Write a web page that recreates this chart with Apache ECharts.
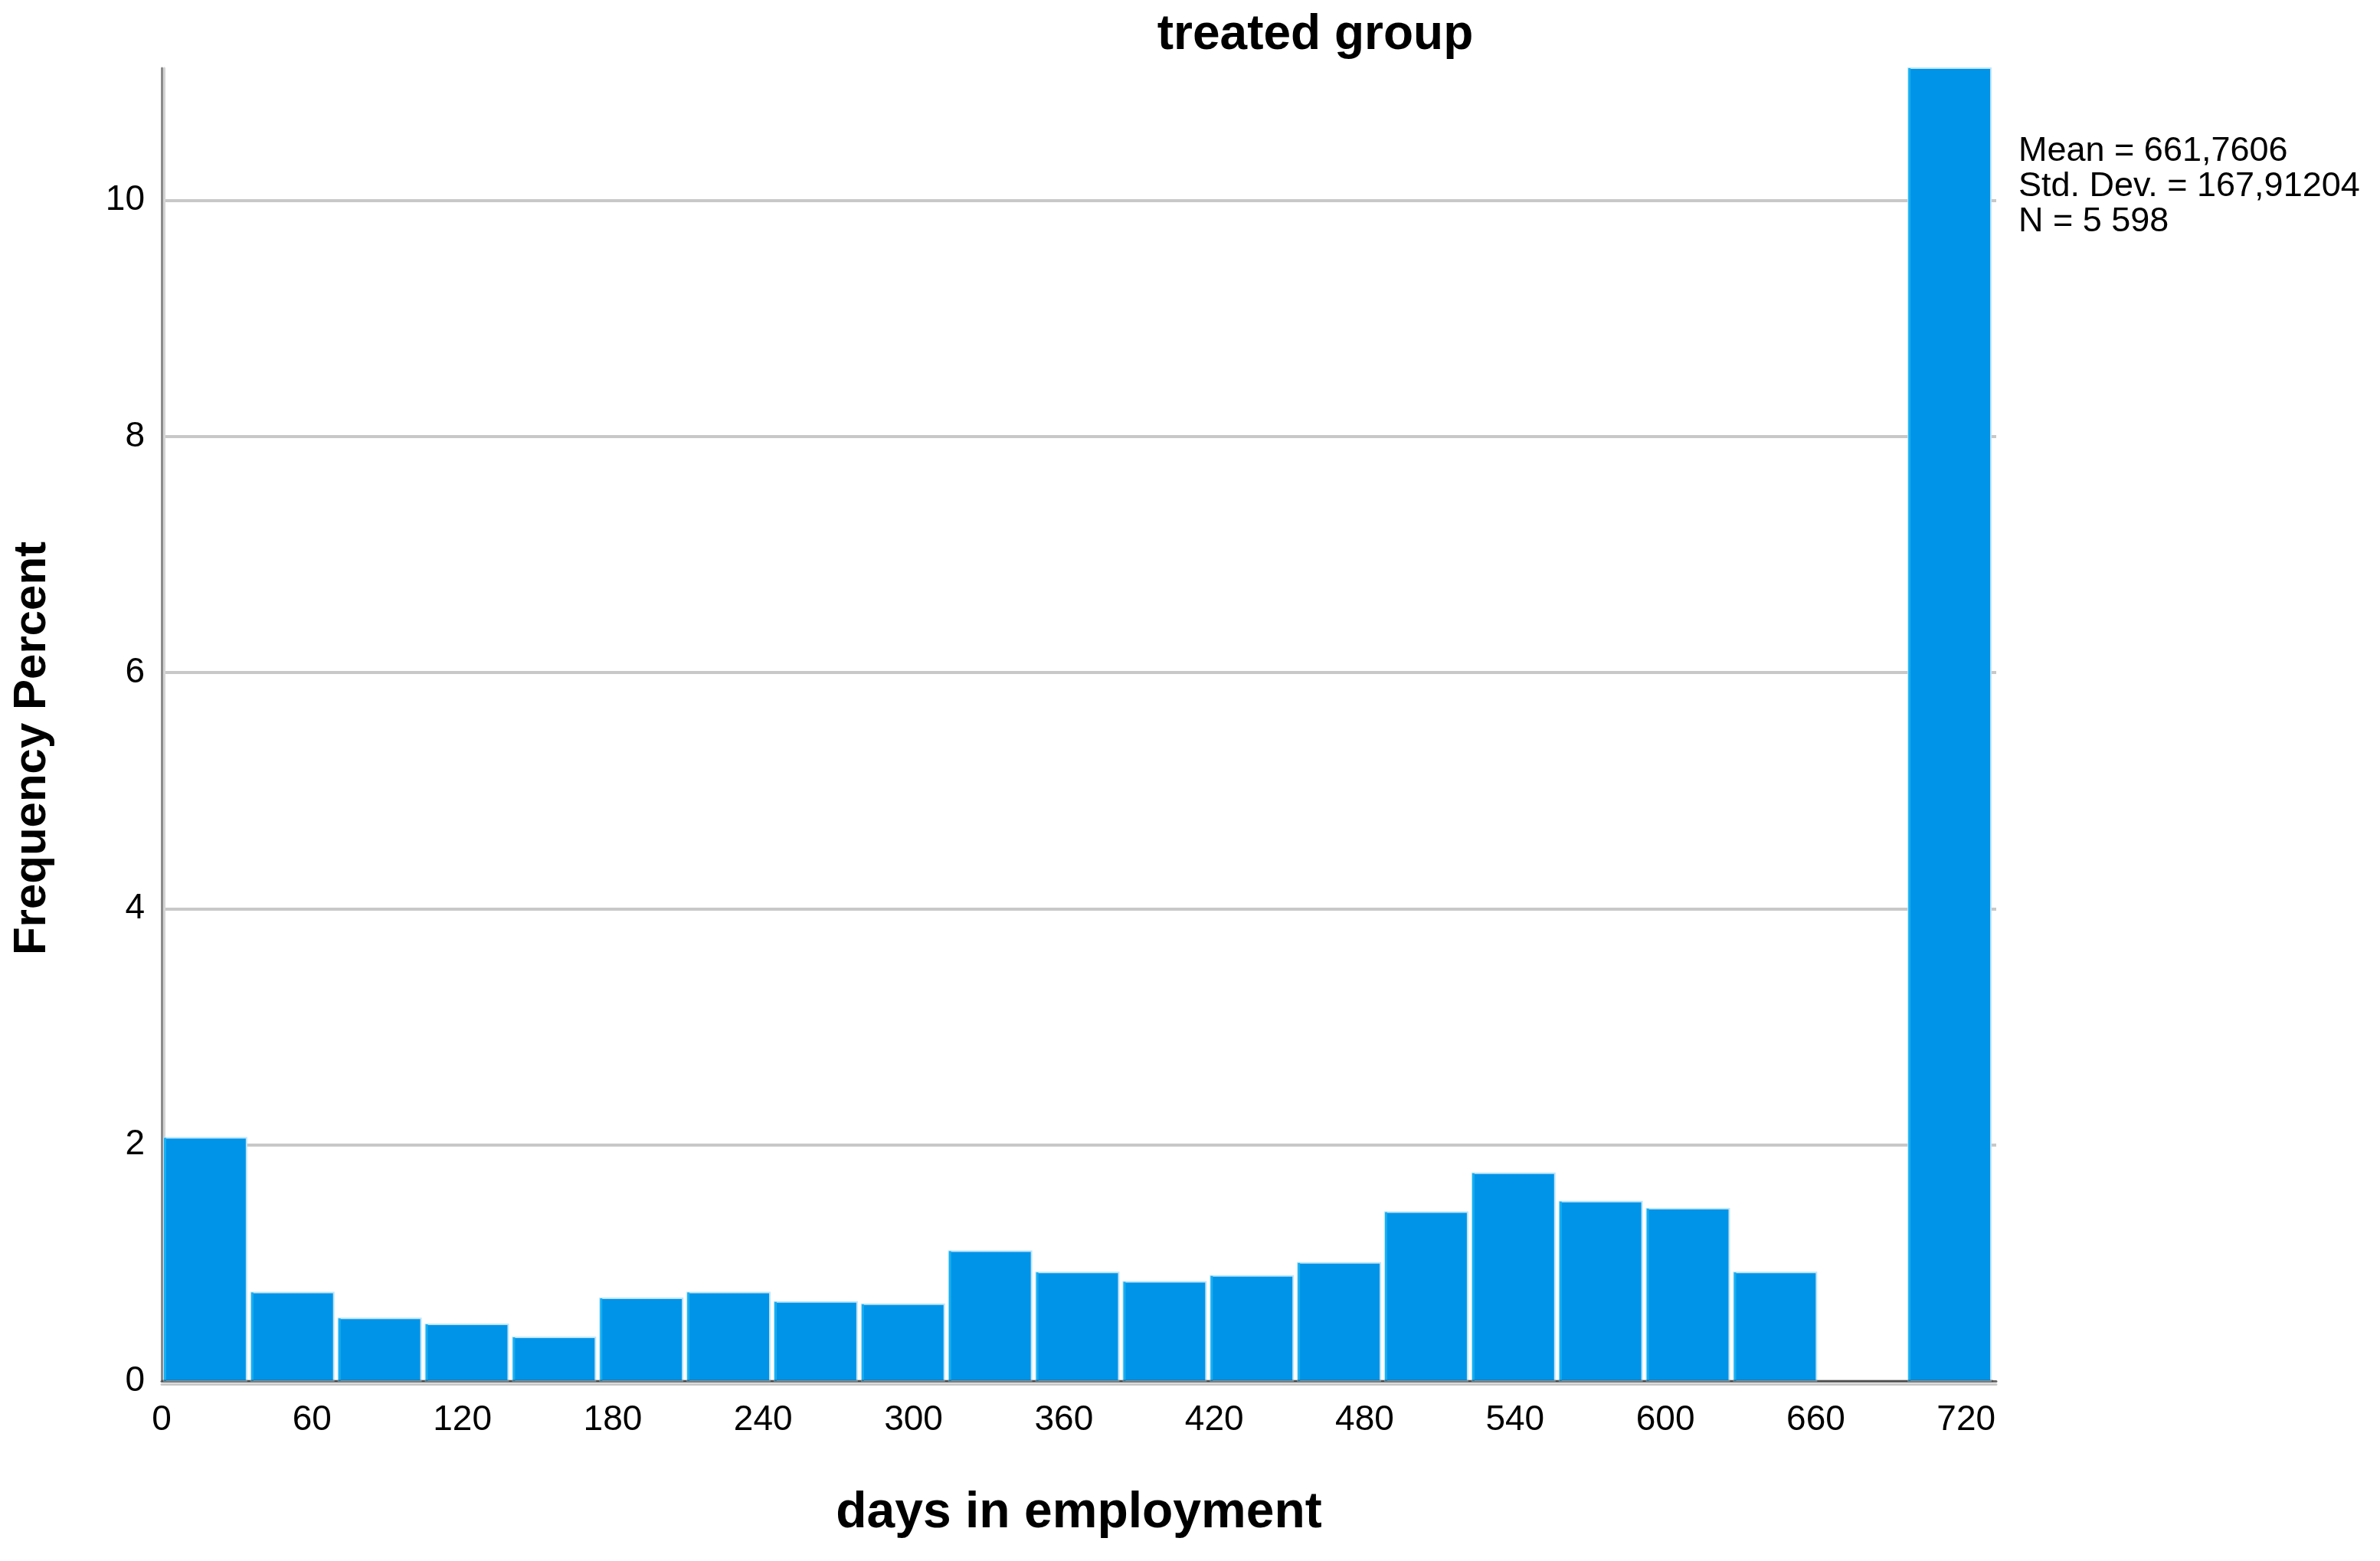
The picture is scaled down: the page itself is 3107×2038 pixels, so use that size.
<!DOCTYPE html>
<html>
<head>
<meta charset="utf-8">
<script src="https://cdn.jsdelivr.net/npm/echarts@6/dist/echarts.min.js"></script>
<style>
html,body{margin:0;padding:0;background:#fff;}
#chart{width:3107px;height:2038px;}
</style>
</head>
<body>
<div id="chart"></div>
<script>
// ---- data ----
const chartTitle = 'treated group';
const xAxisTitle = 'days in employment';
const yAxisTitle = 'Frequency Percent';
const binWidth = 34.8;          // days per histogram bin
const percent = [2.06, 0.75, 0.53, 0.48, 0.37, 0.70, 0.75, 0.67, 0.65, 1.10,
                 0.92, 0.84, 0.89, 1.00, 1.43, 1.76, 1.52, 1.46, 0.92, 0, 81.2];
const xTicks = [0, 60, 120, 180, 240, 300, 360, 420, 480, 540, 600, 660, 720];
const yTicks = [0, 2, 4, 6, 8, 10];
const statsLines = ['Mean = 661,7606', 'Std. Dev. = 167,91204', 'N = 5 598'];

const binData = percent.map((v, i) => [i * binWidth, (i + 1) * binWidth, v]);

const chart = echarts.init(document.getElementById('chart'));
const font = 'Liberation Sans, Arial, sans-serif';

chart.setOption({
  backgroundColor: '#ffffff',
  animation: false,
  grid: { left: 211, right: 501, top: 89, bottom: 235, containLabel: false },
  graphic: [
    { type: 'text', x: 1717, y: 46,
      style: { text: chartTitle, fontFamily: font, fontWeight: 'bold', fontSize: 64,
               fill: '#000', textAlign: 'center', textVerticalAlign: 'middle' } },
    { type: 'text', x: 2635, y: 175,
      style: { text: statsLines.join('\n'), fontFamily: font, fontSize: 45, lineHeight: 46,
               fill: '#000', textAlign: 'left', textVerticalAlign: 'top' } }
  ],
  xAxis: {
    type: 'value', min: 0, max: 732, interval: 60,
    name: xAxisTitle, nameLocation: 'middle', nameGap: 140,
    nameTextStyle: { fontFamily: font, fontWeight: 'bold', fontSize: 66, color: '#000' },
    axisLine: { show: true, lineStyle: { color: '#6a6a6a', width: 3,
                shadowColor: '#c8c8c8', shadowOffsetY: 4, shadowBlur: 0 } },
    axisTick: { show: false },
    splitLine: { show: false },
    axisLabel: { fontFamily: font, fontSize: 46, color: '#000', margin: 28,
                 showMaxLabel: false,
                 formatter: v => xTicks.indexOf(v) >= 0 ? String(v) : '' }
  },
  yAxis: {
    type: 'value', min: 0, max: 11.12, interval: 2,
    name: yAxisTitle, nameLocation: 'middle', nameGap: 139, nameRotate: 90,
    nameTextStyle: { fontFamily: font, fontWeight: 'bold', fontSize: 60, color: '#000',
                     padding: [0, 62, 0, 0] },
    axisLine: { show: true, lineStyle: { color: '#8a8a8a', width: 3,
                shadowColor: '#d4d4d4', shadowOffsetX: 3, shadowBlur: 0 } },
    axisTick: { show: false },
    splitLine: { show: true, showMinLine: false, showMaxLine: false,
                 lineStyle: { color: '#c8c8c8', width: 4 } },
    axisLabel: { fontFamily: font, fontSize: 46, color: '#000', margin: 22,
                 showMaxLabel: false,
                 formatter: v => yTicks.indexOf(v) >= 0 ? String(v) : '' }
  },
  series: [{
    type: 'custom',
    data: binData,
    encode: { x: [0, 1], y: 2 },
    renderItem: function (params, api) {
      const x0 = api.value(0), x1 = api.value(1), v = api.value(2);
      const pTop = api.coord([x0, v]);
      const pBot = api.coord([x1, 0]);
      const cs = params.coordSys;
      const children = [];
      if (v > 0) {
        const rect = echarts.graphic.clipRectByRect(
          { x: pTop[0] + 3, y: pTop[1], width: pBot[0] - pTop[0] - 6, height: pBot[1] - pTop[1] },
          { x: cs.x, y: cs.y, width: cs.width, height: cs.height });
        if (rect) {
          children.push({ type: 'rect', shape: rect,
            style: { fill: '#0094E8', stroke: '#bfe6fb', lineWidth: 2 } });
          children.push({ type: 'rect',
            shape: { x: rect.x, y: rect.y, width: 3, height: rect.height },
            style: { fill: '#14aef2' } });
        }
      }
      children.push({ type: 'line',
        shape: { x1: pTop[0], y1: pBot[1], x2: pBot[0], y2: pBot[1] },
        style: { stroke: 'rgba(70,70,70,0.55)', lineWidth: 3 } });
      return { type: 'group', children: children };
    }
  }]
});
</script>
</body>
</html>
